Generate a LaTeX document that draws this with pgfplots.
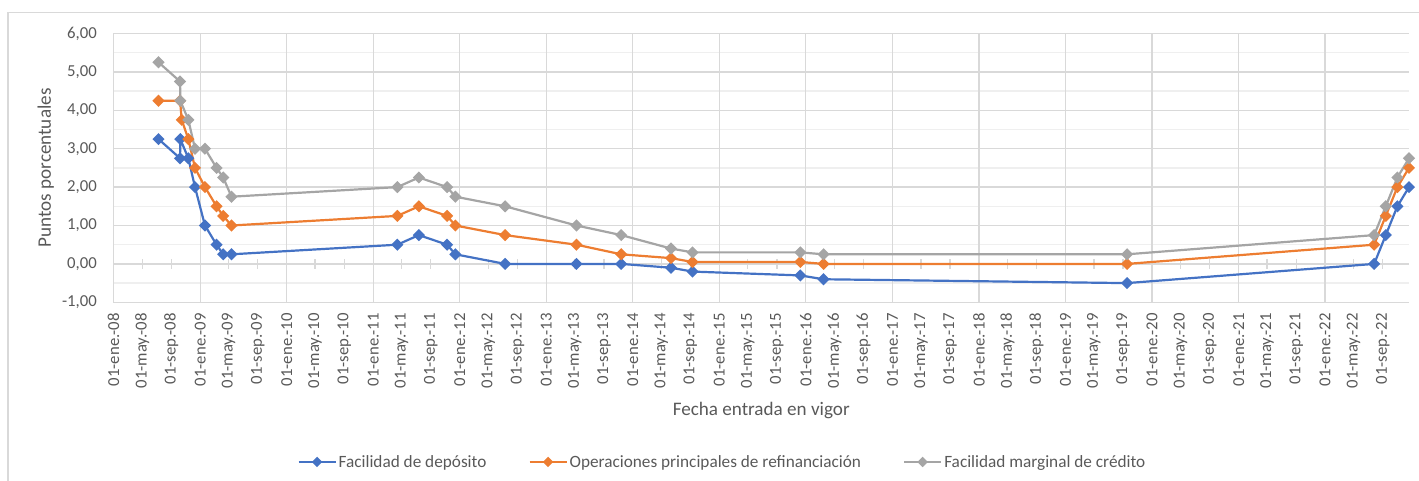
\documentclass[border=0pt]{standalone}
\usepackage{fontspec}
\setmainfont{Carlito}
\usepackage{pgfplots}
\pgfplotsset{compat=1.18}
\definecolor{cblue}{HTML}{4472C4}
\definecolor{corange}{HTML}{ED7D31}
\definecolor{cgray}{HTML}{A5A5A5}
\definecolor{gridmaj}{HTML}{D9D9D9}
\definecolor{gridmin}{HTML}{EFEFEF}
\definecolor{txt}{HTML}{595959}
\newcommand\tickfont{\fontsize{16.8pt}{19pt}\selectfont}
\newcommand\legfont{\fontsize{17.3pt}{19pt}\selectfont}
\newcommand\titlefont{\fontsize{19.2pt}{21pt}\selectfont}
\pgfplotsset{
  myframe/.style={scale only axis, width=1295.5bp, height=268.8bp,
    xmin=0, xmax=5468, ymin=-1, ymax=6},
  series/.style={color=#1, line width=2.2bp, mark=square*, mark size=3.2bp,
    mark options={rotate=45, solid, fill=#1}},
}
\begin{document}
\begin{tikzpicture}
% zero line with cross ticks
\begin{axis}[myframe, name=zero,
  axis x line=middle, axis y line=none,
  axis line style={-, draw=gridmaj, line width=1.3bp},
  xtick={0,121,244,366,486,609,731,851,974,1096,1216,1339,1461,1582,1705,1827,1947,2070,2192,2312,2435,2557,2677,2800,2922,3043,3166,3288,3408,3531,3653,3773,3896,4018,4138,4261,4383,4504,4627,4749,4869,4992,5114,5234,5357},
  xticklabels={}, ytick=\empty,
  xtick align=center, major tick length=10bp,
  tick style={draw=gridmaj, line width=1.3bp}]
\addplot[draw=none] coordinates {(0,0)};
\end{axis}
% main axis
\begin{axis}[myframe, name=ax,
  axis line style={draw=none},
  tick style={draw=none}, major tick length=0pt, minor tick length=0pt,
  xtick={0,121,244,366,486,609,731,851,974,1096,1216,1339,1461,1582,1705,1827,1947,2070,2192,2312,2435,2557,2677,2800,2922,3043,3166,3288,3408,3531,3653,3773,3896,4018,4138,4261,4383,4504,4627,4749,4869,4992,5114,5234,5357},
  xticklabels={01-ene.-08,01-may.-08,01-sep.-08,01-ene.-09,01-may.-09,01-sep.-09,01-ene.-10,01-may.-10,01-sep.-10,01-ene.-11,01-may.-11,01-sep.-11,01-ene.-12,01-may.-12,01-sep.-12,01-ene.-13,01-may.-13,01-sep.-13,01-ene.-14,01-may.-14,01-sep.-14,01-ene.-15,01-may.-15,01-sep.-15,01-ene.-16,01-may.-16,01-sep.-16,01-ene.-17,01-may.-17,01-sep.-17,01-ene.-18,01-may.-18,01-sep.-18,01-ene.-19,01-may.-19,01-sep.-19,01-ene.-20,01-may.-20,01-sep.-20,01-ene.-21,01-may.-21,01-sep.-21,01-ene.-22,01-may.-22,01-sep.-22},
  xticklabel style={rotate=90, anchor=east, inner sep=0pt, font=\tickfont, text=txt},
  xticklabel shift=10.7bp,
  extra x ticks={0,366,731,1096,1461,1827,2192,2557,2922,3288,3653,4018,4383,4749,5114},
  extra x tick labels={},
  extra x tick style={grid=major},
  ytick={-1,0,1,2,3,4,5,6},
  yticklabels={{-1,00},{0,00},{1,00},{2,00},{3,00},{4,00},{5,00},{6,00}},
  minor ytick={-0.5,0.5,1.5,2.5,3.5,4.5,5.5},
  ymajorgrids, yminorgrids,
  major grid style={draw=gridmaj, line width=1.3bp},
  minor grid style={draw=gridmin, line width=1.3bp},
  yticklabel style={anchor=east, inner sep=0pt, font=\tickfont, text=txt},
  yticklabel shift=16.5bp,
  xlabel={Fecha entrada en vigor},
  xlabel style={at={(axis description cs:0.5,-0.4007)}, anchor=center, font=\titlefont, text=txt},
  ylabel={Puntos porcentuales},
  ylabel style={at={(axis description cs:-0.0523,0.5)}, anchor=center, font=\titlefont, text=txt},
  legend columns=3,
  legend style={at={(axis description cs:0.470,-0.594)}, anchor=center, draw=none, fill=none,
    font=\legfont, text=txt,
    /tikz/every even column/.append style={column sep=40bp}},
  legend image code/.code={\draw[#1, mark repeat=2, mark phase=2, mark size=2.6bp] plot coordinates {(0bp,0bp) (18.5bp,0bp) (37bp,0bp)};},
]
\addplot[series=cblue] coordinates {(190,3.25)(281,2.75)(282,3.25)(316,2.75)(344,2.00)(386,1.00)(435,0.50)(463,0.25)(498,0.25)(1198,0.50)(1289,0.75)(1408,0.50)(1443,0.25)(1653,0.00)(1954,0.00)(2143,0.00)(2353,-0.10)(2444,-0.20)(2899,-0.30)(2997,-0.40)(4278,-0.50)(5321,0.00)(5370,0.75)(5419,1.50)(5468,2.00)};
\addlegendentry{Facilidad de depósito}
\addplot[series=corange] coordinates {(190,4.25)(281,4.25)(288,3.75)(316,3.25)(344,2.50)(386,2.00)(435,1.50)(463,1.25)(498,1.00)(1198,1.25)(1289,1.50)(1408,1.25)(1443,1.00)(1653,0.75)(1954,0.50)(2143,0.25)(2353,0.15)(2444,0.05)(2899,0.05)(2997,0.00)(4278,0.00)(5321,0.50)(5370,1.25)(5419,2.00)(5468,2.50)};
\addlegendentry{Operaciones principales de refinanciación}
\addplot[series=cgray] coordinates {(190,5.25)(281,4.75)(282,4.25)(316,3.75)(344,3.00)(386,3.00)(435,2.50)(463,2.25)(498,1.75)(1198,2.00)(1289,2.25)(1408,2.00)(1443,1.75)(1653,1.50)(1954,1.00)(2143,0.75)(2353,0.40)(2444,0.30)(2899,0.30)(2997,0.25)(4278,0.25)(5321,0.75)(5370,1.50)(5419,2.25)(5468,2.75)};
\addlegendentry{Facilidad marginal de crédito}
\end{axis}
% chart area border
\draw[gridmaj, line width=1.3bp] (ax.south west) ++(-105.5bp,-200bp) -- ++(0bp,489.6bp) -- ++(1450bp,0bp);
\pgfresetboundingbox
\path[use as bounding box] (ax.south west) ++(-113.5bp,-178.7bp) rectangle ++(1419bp,481bp);
\end{tikzpicture}
\end{document}
